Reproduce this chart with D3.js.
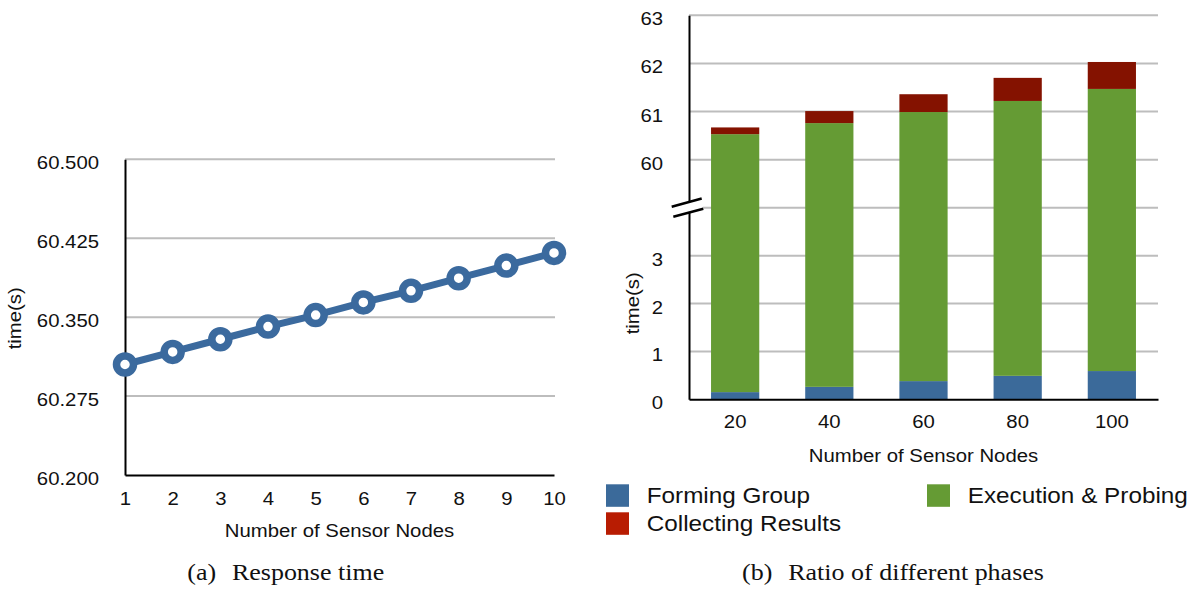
<!DOCTYPE html>
<html><head><meta charset="utf-8">
<script src="https://cdn.jsdelivr.net/npm/d3@7"></script>
<style>
html,body{margin:0;padding:0;background:#fff;}
svg{display:block;}
</style></head><body>
<svg id="chart" width="1199" height="590"></svg>
<script>
// ---------- Data ----------
const nodesA = [1,2,3,4,5,6,7,8,9,10];
const responseTime = [60.305,60.317,60.329,60.341,60.352,60.364,60.375,60.387,60.399,60.411];
const yTicksA = [60.200,60.275,60.350,60.425,60.500];

const nodesB = ["20","40","60","80","100"];
const formingGroup = [0.15,0.26,0.38,0.49,0.59];
const executionProbing = [60.38,60.50,60.61,60.73,60.88];
const collectingResults = [0.14,0.25,0.37,0.48,0.56];
const seriesNames = ["Forming Group","Execution & Probing","Collecting Results"];
const yTicksLowB = [0,1,2,3];
const yTicksHighB = [60,61,62,63];
const axisBreak = [4,59];

const captionA = ["(a)","Response time"];
const captionB = ["(b)","Ratio of different phases"];
const xTitle = "Number of Sensor Nodes";
const yTitle = "time(s)";

// ---------- Styles ----------
const SX = 1.13;
const FONT = "'Liberation Sans', Arial, Helvetica, sans-serif";
const SERIF = "'Liberation Serif', 'Times New Roman', serif";
const GRID = "#bdbdbd";
const TXT = "#111";
const LINE_BLUE = "#3b6a9e";
const barColors = ["#3b6a9a","#659b34","#841200"];
const legendColors = ["#3b6a9a","#659b34","#b81c02"];

const svg = d3.select("#chart");

function label(g, str, x, y, o) {
  o = o || {};
  const t = g.append("text")
    .attr("transform", `translate(${x},${y})` + (o.rotate ? ` rotate(${o.rotate})` : "") + ` scale(${SX},1)`)
    .attr("font-family", o.family || FONT)
    .attr("font-size", o.size || 18)
    .attr("fill", TXT)
    .attr("text-anchor", o.anchor || "start");
  if (Array.isArray(str)) {
    t.append("tspan").text(str[0]);
    t.append("tspan").attr("dx", o.gap || 14).text(str[1]);
  } else t.text(str);
  return t;
}

function styleAxisText(ax, tx, ty, anchor) {
  ax.selectAll("text")
    .attr("x", 0).attr("y", 0).attr("dy", null)
    .attr("transform", `translate(${tx},${ty}) scale(${SX},1)`)
    .attr("text-anchor", anchor)
    .attr("fill", TXT);
}

// ---------- Chart (a) ----------
const xA = d3.scalePoint().domain(nodesA).range([125, 554]);
const yA = d3.scaleLinear().domain([60.2, 60.5]).range([475, 159.3]);
const gA = svg.append("g");

gA.append("g").selectAll("line").data(yTicksA.slice(1)).join("line")
  .attr("x1", 125).attr("x2", 555)
  .attr("y1", d => yA(d)).attr("y2", d => yA(d))
  .attr("stroke", GRID).attr("stroke-width", 2);

const axYA = gA.append("g").attr("transform", "translate(125,0)")
  .call(d3.axisLeft(yA).tickValues(yTicksA).tickFormat(d3.format(".3f")).tickSize(0).tickSizeOuter(0))
  .attr("font-family", FONT).attr("font-size", 18);
axYA.select(".domain").attr("stroke", "#000").attr("stroke-width", 2);
styleAxisText(axYA, -26, 9.5, "end");

const axXA = gA.append("g").attr("transform", "translate(0,475)")
  .call(d3.axisBottom(xA).tickSize(0).tickSizeOuter(0))
  .attr("font-family", FONT).attr("font-size", 18);
axXA.select(".domain").attr("stroke", "#000").attr("stroke-width", 2);
styleAxisText(axXA, 0, 30, "middle");

gA.append("path").datum(responseTime)
  .attr("d", d3.line().x((d, i) => xA(nodesA[i])).y(d => yA(d)))
  .attr("fill", "none").attr("stroke", LINE_BLUE).attr("stroke-width", 7)
  .attr("stroke-linejoin", "round");
gA.append("g").selectAll("circle").data(responseTime).join("circle")
  .attr("cx", (d, i) => xA(nodesA[i])).attr("cy", d => yA(d)).attr("r", 8.5)
  .attr("fill", "#fff").attr("stroke", LINE_BLUE).attr("stroke-width", 7.5);

label(gA, yTitle, 21, 318.3, {rotate: -90, anchor: "middle", size: 18});
label(gA, xTitle, 339.5, 537, {anchor: "middle", size: 18});
label(gA, captionA, 285.7, 580, {anchor: "middle", size: 23, family: SERIF, gap: 14});

// ---------- Chart (b) ----------
const xB = d3.scaleBand().domain(nodesB).range([689, 1158]).paddingInner(0.488).paddingOuter(0.234);
const yB = d3.scaleLinear().domain([0, axisBreak[0], axisBreak[1], 63]).range([399.3, 207.8, 207.8, 15.3]);
const gB = svg.append("g");

const gridB = [...yTicksLowB.slice(1), axisBreak[0], ...yTicksHighB];
gB.append("g").selectAll("line").data(gridB).join("line")
  .attr("x1", 689).attr("x2", 1158)
  .attr("y1", d => yB(d)).attr("y2", d => yB(d))
  .attr("stroke", GRID).attr("stroke-width", 2);

const tableB = nodesB.map((n, i) => ({
  node: n,
  [seriesNames[0]]: formingGroup[i],
  [seriesNames[1]]: executionProbing[i],
  [seriesNames[2]]: collectingResults[i]
}));
const stacked = d3.stack().keys(seriesNames)(tableB);

gB.append("g").selectAll("g").data(stacked).join("g")
  .attr("fill", (d, i) => barColors[i])
  .selectAll("rect").data(d => d).join("rect")
  .attr("x", d => xB(d.data.node))
  .attr("width", xB.bandwidth())
  .attr("y", d => yB(d[1]))
  .attr("height", d => yB(d[0]) - yB(d[1]));

const axYB = gB.append("g").attr("transform", "translate(689,0)")
  .call(d3.axisLeft(yB).tickValues([...yTicksLowB, ...yTicksHighB]).tickSize(0).tickSizeOuter(0))
  .attr("font-family", FONT).attr("font-size", 18);
axYB.select(".domain").attr("stroke", "#000").attr("stroke-width", 2);
styleAxisText(axYB, -26, 9.5, "end");

const axXB = gB.append("g").attr("transform", "translate(0,399.3)")
  .call(d3.axisBottom(xB).tickSize(0).tickSizeOuter(0))
  .attr("font-family", FONT).attr("font-size", 18);
axXB.select(".domain").attr("stroke", "#000").attr("stroke-width", 2);
styleAxisText(axXB, 0, 29, "middle");

// axis break marks
const ax = 689, yb = yB(axisBreak[0]);
const t1 = [ax - 17.3, yb - 1], t2 = [ax + 12.7, yb - 9.3];
const b1 = [ax - 15.7, yb + 9], b2 = [ax + 14.3, yb + 1];
gB.append("polygon").attr("points", [t1, t2, b2, b1].map(p => p.join(",")).join(" ")).attr("fill", "#fff");
gB.append("line").attr("x1", t1[0]).attr("y1", t1[1]).attr("x2", t2[0]).attr("y2", t2[1]).attr("stroke", "#000").attr("stroke-width", 2.5);
gB.append("line").attr("x1", b1[0]).attr("y1", b1[1]).attr("x2", b2[0]).attr("y2", b2[1]).attr("stroke", "#000").attr("stroke-width", 2.5);

label(gB, yTitle, 638.5, 303.3, {rotate: -90, anchor: "middle", size: 18});
label(gB, xTitle, 923.5, 462, {anchor: "middle", size: 18});

// legend
const legendPos = [[606, 484.3], [927, 484.3], [606, 512.3]];
const lg = gB.append("g");
seriesNames.forEach((name, i) => {
  const [lx, ly] = legendPos[i];
  lg.append("rect").attr("x", lx).attr("y", ly).attr("width", 23).attr("height", 22.5).attr("fill", legendColors[i]);
  label(lg, name, lx + 40.7, ly + 19, {size: 21.5});
});

label(gB, captionB, 893, 580, {anchor: "middle", size: 23, family: SERIF, gap: 14});
</script>
</body></html>
